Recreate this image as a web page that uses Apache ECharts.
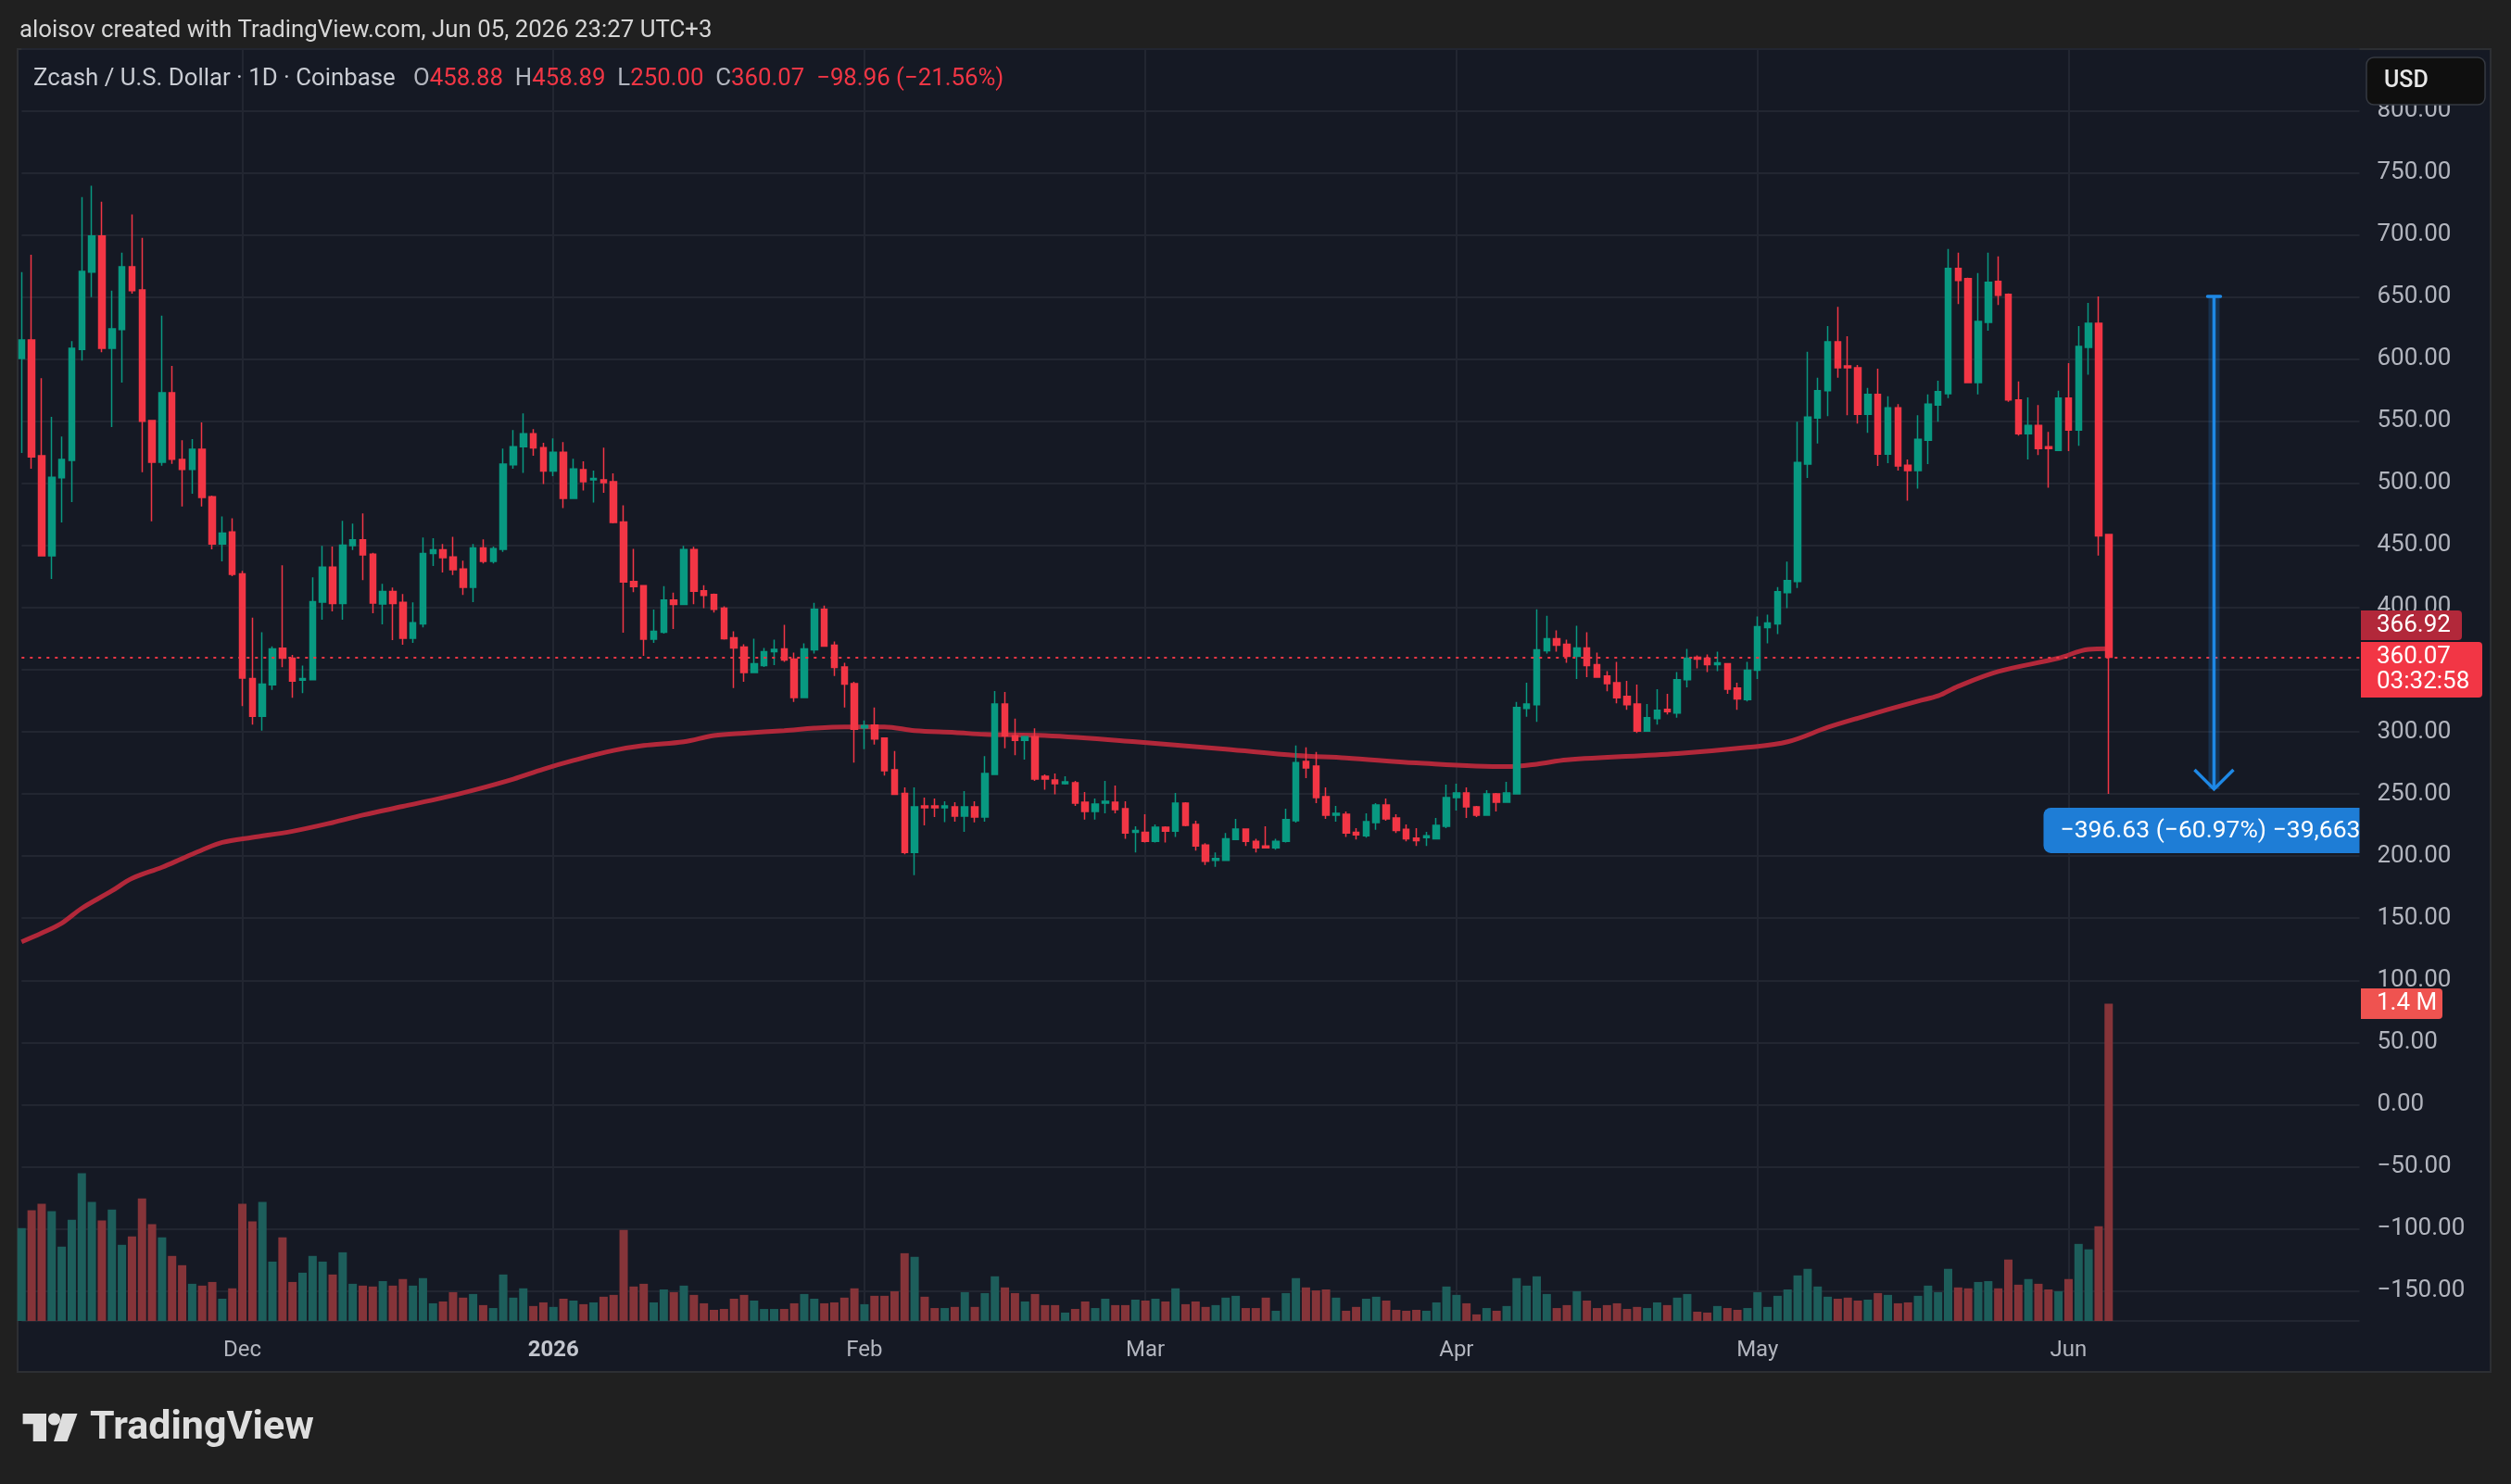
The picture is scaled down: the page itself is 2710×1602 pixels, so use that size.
<!DOCTYPE html>
<html><head><meta charset="utf-8">
<script src="https://cdn.jsdelivr.net/npm/echarts@6/dist/echarts.min.js"></script>
<style>html,body{margin:0;padding:0;background:#202020;}#c{width:2710px;height:1602px;}</style>
</head><body><div id="c"></div>
<script>
// ---------------- DATA ----------------
const startDay = [2025, 10, 9];           // Nov 9, 2025 (first candle)
const dayCount = 234;                      // daily slots through Jun 30, 2026
const monthLabels = {'2025-12-01':'Dec','2026-01-01':'2026','2026-02-01':'Feb','2026-03-01':'Mar','2026-04-01':'Apr','2026-05-01':'May','2026-06-01':'Jun'};
const yearLabels = ['2026'];
const priceTickStep = 50;

// [open, high, low, close]
const candles = [
[600.6,670.1,524.4,615.5],[615.5,684.1,511.9,521.3],[522.2,584.7,441.7,441.7],[441.7,553.6,423.1,504.9],[504.6,537.8,468.6,519.2],
[518.6,614.6,485.0,608.8],[607.9,730.5,598.8,670.7],[670.1,739.6,650.0,699.1],[699.1,726.8,605.5,608.8],[608.8,655.2,545.4,624.4],
[623.8,685.7,581.1,674.4],[674.4,716.5,652.7,655.2],[655.8,697.6,509.1,550.0],[550.6,551.2,469.5,517.1],[517.1,635.1,514.3,572.9],
[572.9,594.5,515.8,519.5],[519.2,534.7,481.4,511.3],[511.3,535.7,491.7,527.4],[527.4,549.1,481.4,488.7],[489.3,490.2,446.9,451.2],
[451.2,473.4,437.2,460.0],[460.9,471.9,425.3,426.8],[427.1,429.6,320.7,343.3],[343.0,392.0,305.8,312.5],[312.5,380.2,300.9,338.4],
[337.8,368.9,333.8,366.7],[367.3,434.1,352.1,359.4],[359.4,361.9,327.4,340.8],[341.7,353.3,331.1,342.9],[342.0,424.4,341.4,404.9],
[404.5,449.7,390.2,432.6],[432.6,449.1,396.9,403.3],[403.3,469.8,390.2,450.3],[450.0,467.7,446.3,454.5],[454.5,475.9,422.2,442.4],
[443.0,444.2,395.4,403.6],[403.0,419.2,386.6,413.1],[413.1,416.1,373.8,403.3],[404.2,411.0,370.1,375.3],[375.3,404.2,371.6,387.8],
[386.9,456.4,384.1,443.6],[443.6,455.8,433.5,446.6],[446.6,451.2,428.3,440.2],[440.8,457.0,426.2,430.5],[431.1,437.8,410.3,416.4],
[416.4,451.2,404.5,448.1],[448.1,454.9,435.6,437.2],[437.2,449.1,435.6,447.5],[446.9,528.0,444.8,515.5],[514.9,543.0,511.9,529.6],
[529.6,556.3,508.4,540.0],[540.0,543.7,522.2,528.5],[528.8,532.6,499.5,509.9],[509.9,536.3,505.8,525.1],[525.1,533.3,480.2,487.9],
[487.9,519.9,487.9,511.7],[511.0,517.7,494.3,501.3],[502.8,510.3,484.6,504.0],[502.8,528.8,492.4,500.6],[501.3,508.0,467.9,468.6],
[469.0,482.4,379.8,420.7],[421.0,447.4,412.5,416.9],[417.7,417.7,361.2,374.6],[374.6,398.4,371.6,380.9],[380.2,417.3,379.0,406.2],
[406.2,412.1,382.8,402.5],[402.5,449.7,402.5,446.7],[446.7,448.9,402.8,413.2],[413.6,418.1,399.5,409.9],[410.6,411.4,396.1,398.7],
[399.5,401.0,374.2,374.9],[375.7,380.9,335.2,367.5],[368.3,370.5,340.4,347.8],[347.8,375.0,347.8,354.9],[353.4,367.5,352.3,364.6],
[364.6,374.2,353.8,366.4],[366.8,386.1,356.4,357.9],[358.6,363.8,324.0,327.7],[327.7,371.2,327.0,366.8],[366.0,403.9,363.1,398.7],
[398.7,401.7,369.0,369.0],[369.8,372.7,344.9,351.9],[352.3,355.6,319.6,338.5],[338.9,340.4,275.3,302.1],[303.2,309.2,286.1,305.1],
[305.4,319.6,289.8,294.3],[295.0,295.0,264.9,268.7],[269.4,284.6,249.7,249.7],[250.4,255.3,201.4,202.9],[202.9,255.3,184.7,239.7],
[240.4,247.1,224.8,238.9],[240.4,246.4,231.5,238.9],[238.9,244.1,227.4,240.4],[239.7,243.4,227.8,232.2],[232.2,252.3,219.6,239.7],
[239.7,244.1,227.1,231.5],[231.5,280.5,227.8,266.4],[265.7,332.9,265.7,322.5],[322.5,332.2,286.9,296.9],[296.9,310.6,281.3,293.2],
[293.2,296.9,277.6,296.2],[296.2,302.9,260.5,262.0],[264.2,265.7,253.4,262.0],[261.2,266.4,249.7,258.2],[258.2,264.2,257.5,259.7],
[259.0,260.5,240.4,242.6],[243.4,251.6,229.3,235.9],[235.9,246.4,229.3,241.9],[242.6,260.5,234.5,244.1],[243.4,256.8,234.5,237.4],
[238.2,244.1,214.0,218.5],[219.2,224.0,202.9,220.7],[219.2,233.7,211.0,211.8],[211.8,225.5,211.0,223.3],[223.3,224.0,211.0,220.0],
[220.0,250.8,215.5,242.6],[242.6,243.4,224.0,224.8],[225.5,228.5,204.4,208.1],[208.8,210.3,192.8,195.8],[196.5,202.9,191.3,198.0],
[196.5,218.5,196.5,214.0],[213.3,230.0,213.3,221.8],[221.8,221.8,208.1,211.8],[211.8,214.0,202.9,206.6],[208.1,224.0,206.6,206.6],
[206.6,214.0,205.1,211.8],[211.8,238.2,211.0,229.3],[228.5,289.1,227.0,275.3],[276.1,287.6,262.7,270.9],[272.4,283.9,242.6,247.1],
[247.8,255.3,230.0,232.9],[232.9,240.4,227.8,234.5],[233.7,235.9,215.5,218.5],[219.2,222.5,213.3,217.0],[216.3,234.5,214.8,227.8],
[227.0,242.6,221.1,241.1],[241.1,246.4,228.5,230.0],[230.7,233.7,218.5,220.7],[221.5,225.5,211.8,214.0],[214.5,222.5,208.1,212.5],
[214.8,219.6,208.1,216.3],[214.0,230.7,213.3,224.8],[224.0,257.5,222.5,247.1],[247.1,258.2,236.7,250.8],[250.8,255.3,230.7,239.7],
[239.7,240.4,231.5,232.9],[232.9,253.0,232.9,250.1],[250.1,250.8,235.9,243.4],[243.4,259.7,243.4,250.8],[250.1,324.0,250.1,319.6],
[318.8,339.6,312.1,322.5],[321.8,398.7,308.0,366.0],[365.3,393.5,363.1,375.0],[375.0,381.7,364.6,369.8],[370.5,374.2,355.6,360.8],
[360.8,385.4,342.6,367.5],[367.5,380.2,344.1,353.4],[354.1,363.8,343.4,344.1],[344.9,348.9,332.6,338.9],[339.6,356.4,322.9,327.4],
[328.5,341.1,317.7,321.8],[322.5,338.1,299.1,300.6],[300.6,322.5,300.6,311.4],[310.6,334.4,305.8,317.3],[318.1,330.7,314.0,316.2],
[315.1,348.2,311.4,341.9],[341.9,366.8,335.9,359.3],[360.1,361.6,351.2,358.6],[359.3,362.3,348.2,354.1],[354.1,364.6,348.9,355.6],
[354.9,354.9,330.7,334.4],[335.2,339.6,317.7,326.6],[325.9,356.4,324.4,349.7],[349.7,392.8,342.6,384.6],[383.9,394.3,371.2,387.6],
[386.9,416.6,378.7,412.9],[412.1,437.0,399.5,421.8],[421.0,549.7,415.8,516.9],[515.5,605.9,504.3,553.4],[552.6,585.0,532.2,574.6],
[574.6,626.6,554.1,614.0],[614.0,642.2,585.0,593.1],[594.6,618.4,554.9,593.1],[593.1,595.4,548.2,555.6],[555.6,576.8,540.7,571.6],
[571.6,592.4,514.0,523.6],[523.6,570.1,516.2,560.8],[560.8,563.8,510.3,514.0],[514.7,519.2,486.1,510.3],[510.3,554.9,495.8,535.5],
[534.8,571.6,515.5,563.8],[563.0,582.7,549.7,573.8],[572.3,688.7,568.6,673.1],[673.1,685.7,644.4,663.4],[664.9,665.6,581.2,581.2],
[581.2,669.3,571.6,630.3],[629.6,685.7,622.9,661.9],[662.6,682.7,643.7,651.5],[652.2,653.0,565.6,567.1],[567.1,582.0,538.5,540.0],
[540.0,569.3,519.2,546.7],[546.7,563.0,522.9,528.1],[529.6,541.5,496.5,528.1],[526.6,574.6,525.9,568.6],[568.6,596.9,525.9,543.0],
[543.0,626.6,530.3,610.2],[609.5,645.2,587.5,628.8],[628.8,650.5,441.9,457.8],[458.88,458.89,250.00,360.07]
];

// daily volume, thousands
const volumes = [
410,488,517,484,328,447,652,525,443,492,336,373,541,427,369,287,246,164,156,172,
98,144,517,439,525,262,369,172,213,287,262,205,303,164,156,152,176,156,185,156,
189,78,86,127,103,119,70,57,205,103,144,66,82,62,98,90,74,82,107,115,
402,152,164,82,139,127,156,115,78,49,53,98,115,90,53,53,53,78,119,98,
78,82,103,144,74,111,111,131,299,283,107,57,57,62,127,62,123,197,148,123,
86,119,70,70,37,53,86,57,98,70,70,94,90,98,86,144,74,86,62,70,
103,111,57,57,103,45,123,189,148,135,139,103,45,62,98,107,90,49,45,49,
45,82,152,115,78,29,57,45,66,189,156,197,119,57,70,131,90,57,70,78,
53,62,57,82,70,103,119,41,37,66,57,49,57,127,62,111,139,201,230,152,
107,98,103,90,94,123,115,78,82,111,156,127,230,148,144,172,176,144,271,160,
185,164,139,131,185,340,316,418,1400
];

// moving average: [candle index, value]
const maPoints = [
[0,131],[2,138],[4,146],[6,158],[9,172],[11,182],[14,191],[16,198],[18,205],[20,211],
[23,215],[27,220],[31,227],[34,233],[38,240],[42,247],[45,253],[49,262],[52,270],[55,277],
[59,285],[62,289],[66,292],[69,297],[72,299],[76,301],[79,303],[82,304],[86,304],[89,301],
[93,299.5],[96,298],[102,297],[111,292],[120,286],[127,281],[132,279],[139,275],[148,272],
[151,274],[154,277.5],[165,282.5],[172,287.5],[176,292],[180,303.6],[183,311],[189,324.8],
[191,329],[193,336.7],[197,348.6],[203,359.3],[206,366.4],[208,366.92]
];

const lastClose = 360.07;
const maLast = 366.92;
const lastVolumeLabel = '1.4 M';
const countdown = '03:32:58';
const measure = {fromIdx: 218, toIdx: 219, top: 650.52, bottom: 253.89, text: '\u2212396.63 (\u221260.97%) \u221239,663'};
const titleText = 'aloisov created with TradingView.com, Jun 05, 2026 23:27 UTC+3';
const symbolText = 'Zcash / U.S. Dollar \u00b7 1D \u00b7 Coinbase';
const changeText = '\u221298.96 (\u221221.56%)';

// ---------------- BUILD ----------------
const dates = [];
{
  const d0 = Date.UTC(startDay[0], startDay[1], startDay[2]);
  for (let i = 0; i < dayCount; i++) dates.push(new Date(d0 + i * 86400000).toISOString().slice(0, 10));
}
const UP = '#089981', DOWN = '#f23645', VUP = '#1d5e5b', VDOWN = '#853439';
const GRID = '#222631', TXT = '#b2b5be', FONT = 'Roboto';
const isMonth = (i, v) => monthLabels[v] !== undefined;
const fmtPrice = v => (v < 0 ? '\u2212' : '') + Math.abs(v).toFixed(2);

const candleData = candles.map(c => [c[0], c[3], c[2], c[1]]);
const volData = volumes.map((v, i) => ({value: v, itemStyle: {color: candles[i][3] >= candles[i][0] ? VUP : VDOWN}}));

const gridTop = 53, gridBottomPx = 1426, gridLeft = 23.3, gridRightPx = 2546.5;
const priceMin = -174.2, priceMax = 849.6;
const volTopPx = 1083.5;
const volMax = 1400 * (gridBottomPx - gridTop) / (gridBottomPx - volTopPx);

const chart = echarts.init(document.getElementById('c'), null, {width: 2710, height: 1602});
chart.setOption({
  backgroundColor: '#202020',
  animation: false,
  grid: {left: gridLeft, right: 2710 - gridRightPx, top: gridTop, bottom: 1602 - gridBottomPx, containLabel: false},
  xAxis: {
    type: 'category', data: dates, boundaryGap: false,
    axisLine: {show: false}, axisTick: {show: false},
    axisLabel: {
      interval: isMonth, margin: 20, color: TXT, fontSize: 24, fontFamily: FONT,
      formatter: v => yearLabels.includes(monthLabels[v]) ? '{b|' + monthLabels[v] + '}' : (monthLabels[v] || ''),
      rich: {b: {fontWeight: 'bold', fontSize: 24, color: '#c3c6ce', fontFamily: FONT}}
    },
    splitLine: {show: true, interval: isMonth, lineStyle: {color: GRID, width: 2}}
  },
  yAxis: [
    {
      type: 'value', position: 'right', min: priceMin, max: priceMax, scale: true,
      splitNumber: 20, minInterval: priceTickStep, maxInterval: priceTickStep,
      axisLine: {show: false}, axisTick: {show: false},
      axisLabel: {showMinLabel: false, showMaxLabel: false, color: TXT, fontSize: 26, fontFamily: FONT, margin: 19, align: 'left', padding: [4, 0, 0, 0], formatter: fmtPrice},
      splitLine: {show: true, lineStyle: {color: GRID, width: 2}}
    },
    {type: 'value', min: 0, max: volMax, show: false, splitLine: {show: false}}
  ],
  series: [
    {type: 'bar', yAxisIndex: 1, data: volData, barWidth: 9, clip: false, z: 1, silent: true},
    {type: 'line', data: maPoints, smooth: 0.35, showSymbol: false, z: 2, silent: true,
     lineStyle: {color: '#b2283a', width: 5}},
    {type: 'candlestick', data: candleData, barWidth: 7, clip: false, z: 3, silent: true,
     itemStyle: {color: UP, color0: DOWN, borderColor: UP, borderColor0: DOWN, borderWidth: 1.5},
     markLine: {silent: true, symbol: ['none', 'none'], label: {show: false},
       lineStyle: {color: DOWN, type: [3, 6], width: 2}, data: [{yAxis: lastClose}]}}
  ]
});

// ---------------- OVERLAYS ----------------
const yP = v => chart.convertToPixel({yAxisIndex: 0}, v);
const yV = v => chart.convertToPixel({yAxisIndex: 1}, v);
const xI = i => chart.convertToPixel({xAxisIndex: 0}, i);
const gR = gridRightPx;

const yClose = yP(lastClose);
const yVol = yV(volumes[volumes.length - 1]);
const mx = (xI(measure.fromIdx) + xI(measure.toIdx)) / 2;
const mTop = yP(measure.top), mBot = yP(measure.bottom);
const MB = '#1e88e5';
const last = candles[candles.length - 1];
const HF = '25.8px Roboto';

const g = [];
// panel
g.push({type: 'rect', z: -100, silent: true, shape: {x: 19, y: 53, width: 2669, height: 1428}, style: {fill: '#151924', stroke: '#2d2f33', lineWidth: 2}});
// title
g.push({type: 'text', x: 21, y: 34, silent: true, style: {text: titleText, fill: '#d6d6d6', font: HF, verticalAlign: 'middle'}});
// header
g.push({type: 'text', x: 36, y: 86, z: 50, silent: true, style: {
  text: '{n|' + symbolText + '}   {k|O}{v|' + last[0].toFixed(2) + '}  {k|H}{v|' + last[1].toFixed(2) + '}  {k|L}{v|' + last[2].toFixed(2) + '}  {k|C}{v|' + last[3].toFixed(2) + '}  {v|' + changeText + '}',
  verticalAlign: 'middle', font: HF,
  rich: {n: {fill: '#c9ccd3', font: HF}, k: {fill: '#b2b5be', font: HF}, v: {fill: DOWN, font: HF}}
}});
// USD box
g.push({type: 'rect', z: 100, silent: true, shape: {x: 2554, y: 62, width: 128, height: 51, r: 8}, style: {fill: '#0f0f0f', stroke: '#363a42', lineWidth: 1.5}});
g.push({type: 'text', z: 101, silent: true, x: 2573, y: 88, style: {text: 'USD', fill: '#e8e8e8', font: '500 25px Roboto', verticalAlign: 'middle'}});
// MA tag
g.push({type: 'rect', z: 100, silent: true, shape: {x: gR + 1.5, y: yClose - 50.5, width: 109, height: 32, r: [0, 4, 4, 0]}, style: {fill: '#b2283a'}});
g.push({type: 'text', z: 101, silent: true, x: 2565, y: yClose - 34.5, style: {text: maLast.toFixed(2), fill: '#ffffff', font: '26px Roboto', verticalAlign: 'middle'}});
// last price tag
g.push({type: 'rect', z: 100, silent: true, shape: {x: gR + 1.5, y: yClose - 16.5, width: 131, height: 60, r: [0, 4, 4, 0]}, style: {fill: DOWN}});
g.push({type: 'text', z: 101, silent: true, x: 2565, y: yClose, style: {text: lastClose.toFixed(2), fill: '#ffffff', font: '26px Roboto', verticalAlign: 'middle'}});
g.push({type: 'text', z: 101, silent: true, x: 2565, y: yClose + 27, style: {text: countdown, fill: '#ffffff', font: '26px Roboto', verticalAlign: 'middle'}});
// volume tag
g.push({type: 'rect', z: 100, silent: true, shape: {x: gR + 1.5, y: yVol - 16.5, width: 88, height: 33, r: [0, 4, 4, 0]}, style: {fill: '#ef5350'}});
g.push({type: 'text', z: 101, silent: true, x: 2565, y: yVol, style: {text: lastVolumeLabel, fill: '#ffffff', font: '26px Roboto', verticalAlign: 'middle'}});
// measure tool
g.push({type: 'line', z: 60, silent: true, shape: {x1: mx, y1: mTop, x2: mx, y2: mBot}, style: {stroke: 'rgba(30,136,229,0.22)', lineWidth: 12}});
g.push({type: 'line', z: 61, silent: true, shape: {x1: mx, y1: mTop, x2: mx, y2: mBot}, style: {stroke: MB, lineWidth: 3.5}});
g.push({type: 'line', z: 61, silent: true, shape: {x1: mx - 7, y1: mTop, x2: mx + 7, y2: mTop}, style: {stroke: MB, lineWidth: 3.5, lineCap: 'round'}});
g.push({type: 'polyline', z: 61, silent: true, shape: {points: [[mx - 21, mBot - 21], [mx, mBot], [mx + 21, mBot - 21]]}, style: {stroke: MB, lineWidth: 3.5, fill: null, lineJoin: 'miter'}});
const lblX = mx - 184, lblY = mBot + 20;
g.push({type: 'rect', z: 62, silent: true, shape: {x: lblX, y: lblY, width: gR - lblX, height: 49, r: [8, 0, 0, 8]}, style: {fill: '#1e7dd6'}});
g.push({type: 'text', z: 63, silent: true, x: lblX + 18, y: lblY + 25, style: {text: measure.text, fill: '#ffffff', font: '26.5px Roboto', verticalAlign: 'middle', width: gR - lblX - 6, overflow: 'truncate', ellipsis: ''}});
// TradingView logo
g.push({type: 'polygon', silent: true, shape: {points: [[24.6, 1526], [50, 1526], [50, 1556], [35.7, 1556], [35.7, 1537.3], [24.6, 1537.3]]}, style: {fill: '#dedede'}});
g.push({type: 'circle', silent: true, shape: {cx: 58.5, cy: 1532, r: 6.6}, style: {fill: '#dedede'}});
g.push({type: 'polygon', silent: true, shape: {points: [[67.5, 1526], [83.5, 1526], [72.5, 1556], [58, 1556]]}, style: {fill: '#dedede'}});
g.push({type: 'text', silent: true, x: 97, y: 1542, style: {text: 'TradingView', fill: '#dedede', font: 'bold 43px Roboto', verticalAlign: 'middle'}});

chart.setOption({graphic: g});
</script>
</body></html>
